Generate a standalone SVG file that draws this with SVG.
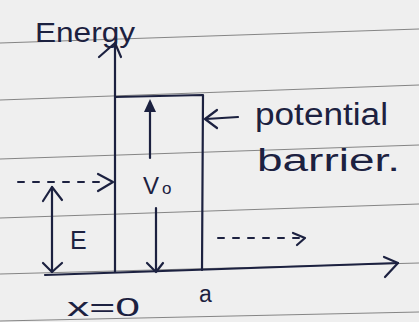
<svg xmlns="http://www.w3.org/2000/svg" width="419" height="322" viewBox="0 0 419 322">
<defs>
<style>
.ink{stroke:#1c2140;stroke-width:2.2;fill:none;stroke-linecap:round;stroke-linejoin:round}
.dash{stroke:#1c2140;stroke-width:2;fill:none;stroke-dasharray:6 9;stroke-linecap:round}
.rule{stroke:#858585;stroke-width:1.2;fill:none}
.t{font-family:"Liberation Sans","DejaVu Sans",sans-serif;fill:#1c2140}
</style>
</defs>
<rect width="419" height="322" fill="#efefef"/>
<g id="rules">
<path class="rule" d="M0 43 L419 29"/>
<path class="rule" d="M0 100 L419 85"/>
<path class="rule" d="M0 159 L419 145"/>
<path class="rule" d="M0 218 L419 204"/>
<path class="rule" d="M0 274 L419 263"/>
<path class="rule" d="M0 321 L419 312"/>
</g>
<g id="axes">
<path class="ink" d="M115 272 L115 43"/>
<path class="ink" d="M99 57 L115 43 L121 57"/>
<path class="ink" d="M45 275 L398 263"/>
<path class="ink" d="M384 257 L398 263 L385 277"/>
</g>
<g id="barrier">
<path class="ink" d="M115 97 L203 95 L202 270"/>
</g>
<g id="connectors">
<path class="ink" d="M150 158 L150 102"/>
<path d="M144 112 L150 99 L156 112 Z" fill="#1c2140"/>
<path class="ink" d="M156 208 L156 271"/>
<path class="ink" d="M147 263 L156 272 L163 263"/>
<path class="ink" d="M52 187 L52 272"/>
<path class="ink" d="M43 201 L52 187 L62 200"/>
<path class="ink" d="M43 263 L52 272 L62 263"/>
<path class="dash" d="M18 182 L106 182"/>
<path class="ink" d="M98 174 L113 182 L98 191"/>
<path class="dash" d="M218 238 L300 238"/>
<path class="ink" d="M293 233 L305 238 L297 245"/>
<path class="ink" d="M238 117 L206 119"/>
<path class="ink" d="M217 110 L205 119 L217 128"/>
</g>
<g id="labels">
<text class="t" x="35" y="42" font-size="27" textLength="100" lengthAdjust="spacingAndGlyphs">Energy</text>
<text class="t" x="143" y="194" font-size="24">V</text>
<text class="t" x="162" y="194" font-size="17">o</text>
<text class="t" x="70" y="249" font-size="25">E</text>
<text class="t" x="255" y="125" font-size="31" textLength="133" lengthAdjust="spacingAndGlyphs">potential</text>
<text class="t" x="257" y="171" font-size="31" textLength="143" lengthAdjust="spacingAndGlyphs">barrier.</text>
<text class="t" x="67" y="316" font-size="26" textLength="73" lengthAdjust="spacingAndGlyphs">x=0</text>
<text class="t" x="199" y="302" font-size="23">a</text>
</g>
</svg>
